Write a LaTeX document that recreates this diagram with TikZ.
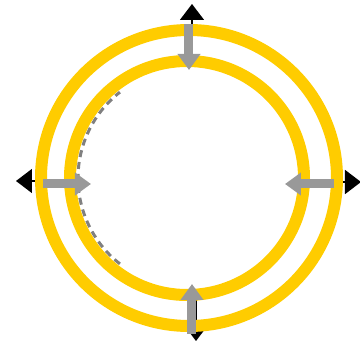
\documentclass[tikz,border=0pt]{standalone}
\usetikzlibrary{arrows.meta}
\definecolor{ringyellow}{HTML}{FFCC00}
\definecolor{arrgray}{HTML}{999999}
\definecolor{dashgray}{HTML}{808080}
\tikzset{
  blackarr/.style={draw=black, line width=1.5pt, -{Triangle[width=24pt,length=16pt]}},
  grayarr/.style={draw=arrgray, line width=9pt, -{Triangle[width=22pt,length=16pt]}},
  ring/.style={draw=ringyellow, line width=12pt},
  dashedarc/.style={draw=dashgray, line width=3pt, dash pattern=on 7pt off 5pt}
}
\begin{document}
\begin{tikzpicture}[x=1pt,y=-1pt]
\useasboundingbox (0,0) rectangle (360,345);
\coordinate (C) at (189,178);
\coordinate (Ci) at (187,178);
% black arrows
\coordinate (bt0) at (192,55);  \coordinate (bt1) at (192,4);
\coordinate (bl0) at (66,181);  \coordinate (bl1) at (16,181);
\coordinate (br0) at (312,182); \coordinate (br1) at (361,182);
\coordinate (bb0) at (196,298); \coordinate (bb1) at (196,341);
\draw[blackarr] (bt0) -- (bt1);
\draw[blackarr] (bl0) -- (bl1);
\draw[blackarr] (br0) -- (br1);
\draw[blackarr] (bb0) -- (bb1);
% dashed arc
\draw[dashedarc] (Ci) ++(128:109) arc[start angle=128, end angle=232, radius=109];
% rings
\draw[ring] (C) circle[radius=148];
\draw[ring] (Ci) circle[radius=117];
% gray arrows
\coordinate (gt0) at (189,24);  \coordinate (gt1) at (189,70);
\coordinate (gl0) at (43,184);  \coordinate (gl1) at (91,184);
\coordinate (gr0) at (334,184); \coordinate (gr1) at (285,184);
\coordinate (gb0) at (192,334); \coordinate (gb1) at (192,284);
\draw[grayarr] (gt0) -- (gt1);
\draw[grayarr] (gl0) -- (gl1);
\draw[grayarr] (gr0) -- (gr1);
\draw[grayarr] (gb0) -- (gb1);
\end{tikzpicture}
\end{document}
